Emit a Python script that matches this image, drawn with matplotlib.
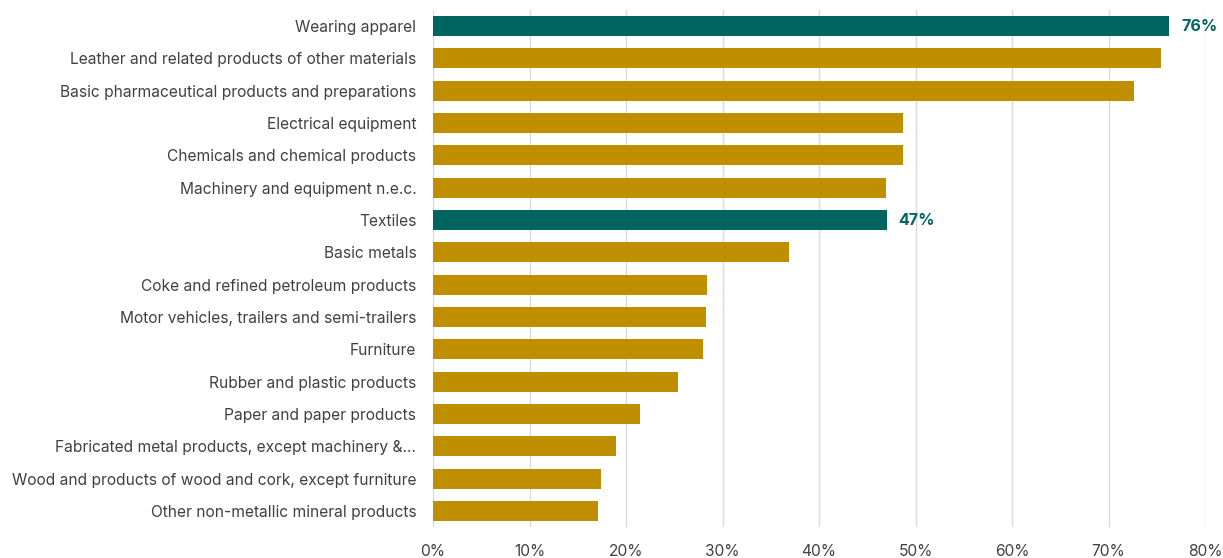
import matplotlib.pyplot as plt
from matplotlib.ticker import PercentFormatter

plt.rcParams["font.family"] = ["Inter", "DejaVu Sans"]

categories = [
    "Wearing apparel",
    "Leather and related products of other materials",
    "Basic pharmaceutical products and preparations",
    "Electrical equipment",
    "Chemicals and chemical products",
    "Machinery and equipment n.e.c.",
    "Textiles",
    "Basic metals",
    "Coke and refined petroleum products",
    "Motor vehicles, trailers and semi-trailers",
    "Furniture",
    "Rubber and plastic products",
    "Paper and paper products",
    "Fabricated metal products, except machinery &...",
    "Wood and products of wood and cork, except furniture",
    "Other non-metallic mineral products",
]
shares = [0.763, 0.754, 0.726, 0.487, 0.487, 0.469, 0.470, 0.369,
          0.284, 0.283, 0.280, 0.254, 0.215, 0.190, 0.174, 0.171]
highlighted = {"Wearing apparel", "Textiles"}

TEAL = "#006461"
GOLD = "#BF8F00"

fig = plt.figure(figsize=(12.23, 5.58), dpi=100)
ax = fig.add_axes([433 / 1223, 31 / 558, 772 / 1223, 517 / 558])

colors = [TEAL if c in highlighted else GOLD for c in categories]
y = range(len(categories))
ax.barh(y, shares, height=0.62, color=colors, zorder=3)

for i, (c, v) in enumerate(zip(categories, shares)):
    if c in highlighted:
        ax.text(v + 0.012, i, f"{v:.0%}", va="center", ha="left",
                color=TEAL, fontsize=11.5, fontweight="bold")

ax.set_yticks(list(y))
ax.set_yticklabels(categories, fontsize=11.2, color="#404040")
ax.set_ylim(len(categories) - 0.5, -0.5)
ax.set_xlim(0, 0.8)
ax.set_xticks([i / 10 for i in range(9)])
ax.xaxis.set_major_formatter(PercentFormatter(1.0, decimals=0))
ax.tick_params(axis="x", labelsize=11.2, labelcolor="#404040", length=0, pad=12)
ax.tick_params(axis="y", length=0, pad=12)
ax.grid(axis="x", color="#D9D9D9", linewidth=1, zorder=0)
for s in ax.spines.values():
    s.set_visible(False)

fig.savefig("out.png", dpi=100)
